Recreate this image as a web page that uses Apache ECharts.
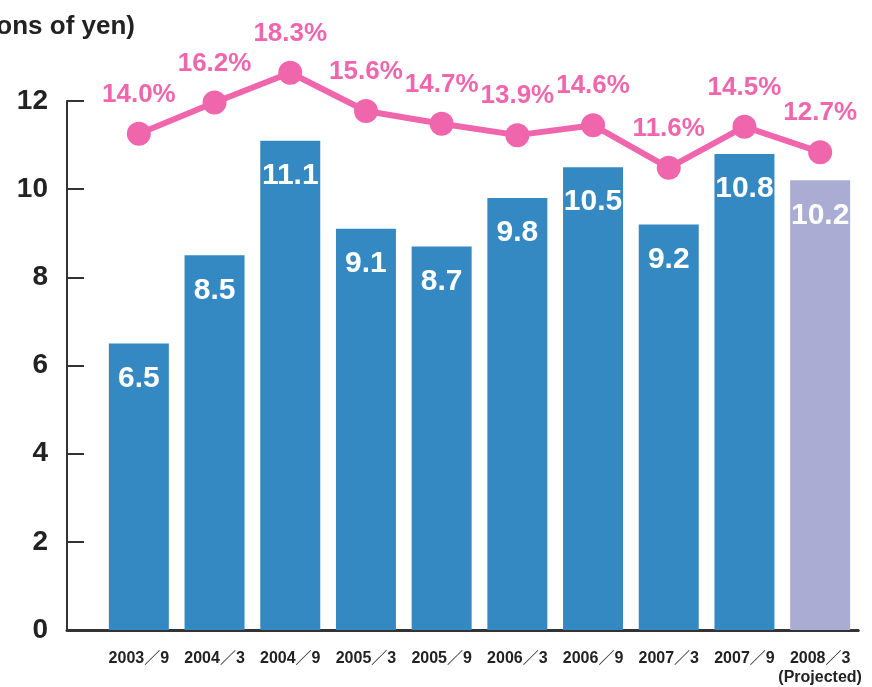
<!DOCTYPE html>
<html>
<head>
<meta charset="utf-8">
<script src="https://cdn.jsdelivr.net/npm/echarts@6/dist/echarts.min.js"></script>
<style>html,body{margin:0;padding:0;background:#fff;}#c{width:872px;height:687px;}</style>
</head>
<body>
<div id="c"></div>
<script>
const categories = ['2003／9','2004／3','2004／9','2005／3','2005／9','2006／3','2006／9','2007／3','2007／9','2008／3\n(Projected)'];
const profitValues = [6.5, 8.5, 11.1, 9.1, 8.7, 9.8, 10.5, 9.2, 10.8, 10.2];
const ratioValues = [14.0, 16.2, 18.3, 15.6, 14.7, 13.9, 14.6, 11.6, 14.5, 12.7];
const yTicks = [0, 2, 4, 6, 8, 10, 12];
const unitLabel = '(Billions of yen)';

const FONT = '"Liberation Sans", Arial, "Noto Sans CJK JP", sans-serif';
const BLUE = '#3589c2';
const PROJ = '#abacd4';
const PINK = '#f066ac';
const INK = '#222';

const chart = echarts.init(document.getElementById('c'), null, {renderer: 'canvas'});
chart.setOption({
  backgroundColor: '#fff',
  animation: false,
  title: {
    text: unitLabel,
    right: 872 - 140,
    top: 9,
    textStyle: {fontFamily: FONT, fontWeight: 'bold', fontSize: 26, color: INK}
  },
  grid: [
    {left: 101, right: 14, top: 101, bottom: 57},
    {left: 101, right: 14, top: 60, bottom: 57},
    {left: 67, right: 14, top: 101, bottom: 57}
  ],
  xAxis: [
    {
      type: 'category', gridIndex: 0, data: categories,
      axisLine: {lineStyle: {color: '#333', width: 3}},
      axisTick: {show: false},
      axisLabel: {interval: 0, fontFamily: FONT, fontWeight: 'bold', fontSize: 16, color: INK, margin: 19, lineHeight: 19, verticalAlign: 'top'}
    },
    {type: 'category', gridIndex: 1, data: categories, show: false},
    {
      type: 'value', gridIndex: 2, min: 0, max: 1,
      axisLine: {show: true, lineStyle: {color: '#333', width: 3}},
      axisTick: {show: false}, axisLabel: {show: false}, splitLine: {show: false}
    }
  ],
  yAxis: [
    {
      type: 'value', gridIndex: 0, min: yTicks[0], max: yTicks[yTicks.length - 1], interval: 2,
      offset: 34,
      axisLine: {show: true, lineStyle: {color: '#333', width: 2}},
      axisTick: {show: true, inside: true, length: 17, lineStyle: {color: '#333', width: 2}},
      axisLabel: {fontFamily: FONT, fontWeight: 'bold', fontSize: 28, color: INK, margin: 19},
      splitLine: {show: false}
    },
    {type: 'value', gridIndex: 1, min: -21, max: 19.2, show: false, splitLine: {show: false}},
    {type: 'value', gridIndex: 2, min: 0, max: 1, show: false, splitLine: {show: false}}
  ],
  series: [
    {
      type: 'bar', xAxisIndex: 0, yAxisIndex: 0,
      barWidth: 60,
      data: profitValues.map((v, i) => i === profitValues.length - 1 ? {value: v, itemStyle: {color: PROJ}} : v),
      itemStyle: {color: BLUE},
      label: {
        show: true, position: 'insideTop', distance: 20,
        fontFamily: FONT, fontWeight: 'bold', fontSize: 30, color: '#fff',
        formatter: p => p.value.toFixed(1)
      }
    },
    {
      type: 'line', xAxisIndex: 1, yAxisIndex: 1,
      data: ratioValues,
      lineStyle: {color: PINK, width: 6},
      itemStyle: {color: PINK},
      symbol: 'circle', symbolSize: 24,
      label: {
        show: true, position: 'top', distance: 14,
        fontFamily: FONT, fontWeight: 'bold', fontSize: 26, color: PINK,
        formatter: p => p.value.toFixed(1) + '%'
      },
      z: 5
    }
  ]
});
</script>
</body>
</html>
